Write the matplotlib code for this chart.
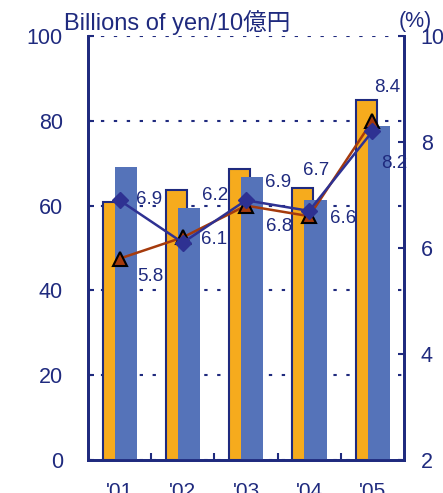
import numpy as np
import matplotlib
matplotlib.use("Agg")
import matplotlib.pyplot as plt

# donnees
annees = ["'01", "'02", "'03", "'04", "'05"]
barres_orange = [60.8, 63.7, 68.6, 64.2, 85.0]
barres_bleues = [69.2, 59.4, 66.7, 61.3, 78.8]
taux_triangle = [5.8, 6.2, 6.8, 6.6, 8.4]
taux_losange = [6.9, 6.1, 6.9, 6.7, 8.2]

plt.rcParams['font.family'] = ['Liberation Sans', 'Noto Sans CJK JP']

navy = '#1f2a7e'
orange = '#f6ab1d'
bleu = '#5573b9'
brun = '#a53a0c'
losange_col = '#2e3192'

fig = plt.figure(figsize=(4.43, 4.93), dpi=100)
ax = fig.add_axes([88/443, 1-460/493, 316/443, 424/493])
x = np.arange(len(annees))

ax.bar(x - 0.1, barres_orange, width=0.33, color=orange, edgecolor=navy, linewidth=1.5, zorder=2)
ax.bar(x + 0.1, barres_bleues, width=0.35, color=bleu, linewidth=0, zorder=3)

ax.set_xlim(-0.5, 4.5)
ax.set_ylim(0, 100)
ax.set_yticks(np.arange(0, 101, 20))
ax.set_axisbelow(True)
ax.yaxis.grid(True, color=navy, linestyle=(0, (1.6, 4.6)), linewidth=1.5)
ax.set_xticks(x)
ax.set_xticklabels(annees)
ax.set_xticks(np.arange(0.5, 4, 1), minor=True)
ax.tick_params(axis='x', which='major', length=0, pad=16, labelsize=15, labelcolor=navy)
ax.tick_params(axis='x', which='minor', direction='in', length=5, width=1.5, color=navy)
ax.tick_params(axis='y', direction='in', length=4, width=1.5, color=navy, pad=18,
               labelsize=15.5, labelcolor=navy)
for s in ['left', 'bottom', 'right']:
    ax.spines[s].set_color(navy)
    ax.spines[s].set_linewidth(2)
ax.spines['top'].set_visible(False)

ax2 = ax.twinx()
ax2.set_ylim(2, 10)
ax2.set_yticks([2, 4, 6, 8, 10])
ax2.tick_params(axis='y', direction='in', length=4, width=1.5, color=navy, pad=12,
                labelsize=15.5, labelcolor=navy)
for s in ['left', 'bottom', 'right']:
    ax2.spines[s].set_color(navy)
    ax2.spines[s].set_linewidth(2)
ax2.spines['top'].set_visible(False)

ax2.plot(x, taux_triangle, color=brun, linewidth=1.8, marker='^', markersize=10,
         markerfacecolor=brun, markeredgecolor='black', markeredgewidth=1.5, zorder=4)
ax2.plot(x, taux_losange, color=losange_col, linewidth=1.8, marker='D', markersize=8.5,
         markerfacecolor=losange_col, markeredgecolor=losange_col, zorder=5)

dec_tri = [(31, -18), (32, 42), (33, -21), (34, -2), (15, 33)]
dec_los = [(29, 1), (31, 3), (32, 18), (7, 40), (22, -32)]
for i in range(len(annees)):
    ax2.annotate(f"{taux_triangle[i]:.1f}", (x[i], taux_triangle[i]), xytext=dec_tri[i],
                 textcoords='offset pixels', ha='center', va='center', fontsize=13.5, color=navy)
    ax2.annotate(f"{taux_losange[i]:.1f}", (x[i], taux_losange[i]), xytext=dec_los[i],
                 textcoords='offset pixels', ha='center', va='center', fontsize=13.5, color=navy)

fig.text(64/443, 1-30/493, "Billions of yen/10億円", ha='left', va='baseline',
         fontsize=17, color=navy)
fig.text(415/443, 1-27/493, "(%)", ha='center', va='baseline', fontsize=15.5, color=navy)

fig.savefig('out.png', dpi=100)
